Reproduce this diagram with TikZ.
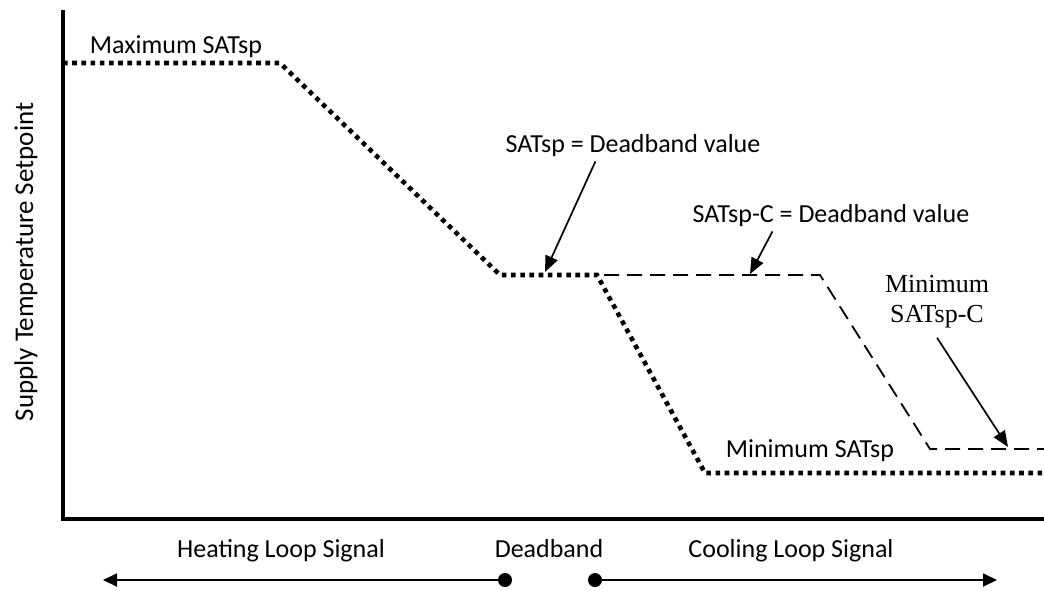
\documentclass[tikz,border=0pt]{standalone}
\usepackage{fontspec}
\setmainfont{Carlito}
\newfontfamily\serifcap{Liberation Serif}
\usetikzlibrary{arrows.meta}

\tikzset{
  axisline/.style={line width=4pt, line join=miter},
  heatcurve/.style={line width=4.6pt, dash pattern=on 4.6pt off 4.6pt},
  coolcurve/.style={line width=1.8pt, dash pattern=on 15pt off 8pt},
  callout/.style={-{Triangle[length=16pt,width=13pt]}, line width=1.7pt},
  signal/.style={line width=1.8pt},
  dotend/.style={circle, fill, inner sep=0pt, minimum size=14pt},
  lbl/.style={font=\fontsize{26}{30}\selectfont, inner sep=0pt, anchor=base},
}

\begin{document}
\begin{tikzpicture}[x=1pt,y=-1pt]
  \useasboundingbox (0,0) rectangle (1044,590);

  % axes
  \draw[axisline] (63,10) -- (63,519) -- (1044,519);
  \node[lbl, rotate=90, font=\fontsize{27}{30}\selectfont] (ylabel) at (33,262) {Supply Temperature Setpoint};

  % heating setpoint
  \coordinate (hA) at (63,63);
  \coordinate (hB) at (280,63);
  \coordinate (hC) at (500,275);
  \coordinate (hD) at (597,275);
  \coordinate (hE) at (705,473);
  \coordinate (hF) at (1044,473);
  \draw[heatcurve] (hA) -- (hB) -- (hC) -- (hD) -- (hE) -- (hF);

  % cooling setpoint
  \coordinate (cA) at (604,275);
  \coordinate (cB) at (820,275);
  \coordinate (cC) at (930,449);
  \coordinate (cD) at (1044,449);
  \draw[coolcurve] (cA) -- (cB) -- (cC) -- (cD);

  \node[lbl] (maxsat) at (176,53) {Maximum SATsp};
  \node[lbl] (minsat) at (810,457) {Minimum SATsp};

  \node[lbl] (dbsat) at (633,152) {SATsp = Deadband value};
  \coordinate (dbtip) at (545,272);
  \draw[callout] ([xshift=90pt,yshift=-5pt]dbsat.south west) -- (dbtip);

  \node[lbl] (dbcool) at (831,222) {SATsp-C = Deadband value};
  \coordinate (dbcooltip) at (750,274);
  \draw[callout] ([xshift=80pt,yshift=-5pt]dbcool.south west) -- (dbcooltip);

  \node[lbl, font=\fontsize{26}{30}\serifcap, align=center] (mincool) at (937,322) {Minimum\\SATsp-C};
  \coordinate (mincooltip) at (1008,447);
  \draw[callout] ([yshift=-10pt]mincool.south) -- (mincooltip);

  % loop signals
  \node[lbl] (heatsig) at (281,557) {Heating Loop Signal};
  \node[lbl] (deadband) at (549,557) {Deadband};
  \node[lbl] (coolsig) at (791,557) {Cooling Loop Signal};
  \node[dotend] (heatdot) at (505,580) {};
  \node[dotend] (cooldot) at (595,580) {};
  \coordinate (heatend) at (103,580);
  \coordinate (coolend) at (997,580);
  \draw[signal, -{Triangle[length=14pt,width=13pt]}] (heatdot.center) -- (heatend);
  \draw[signal, -{Triangle[length=14pt,width=13pt]}] (cooldot.center) -- (coolend);
\end{tikzpicture}
\end{document}
